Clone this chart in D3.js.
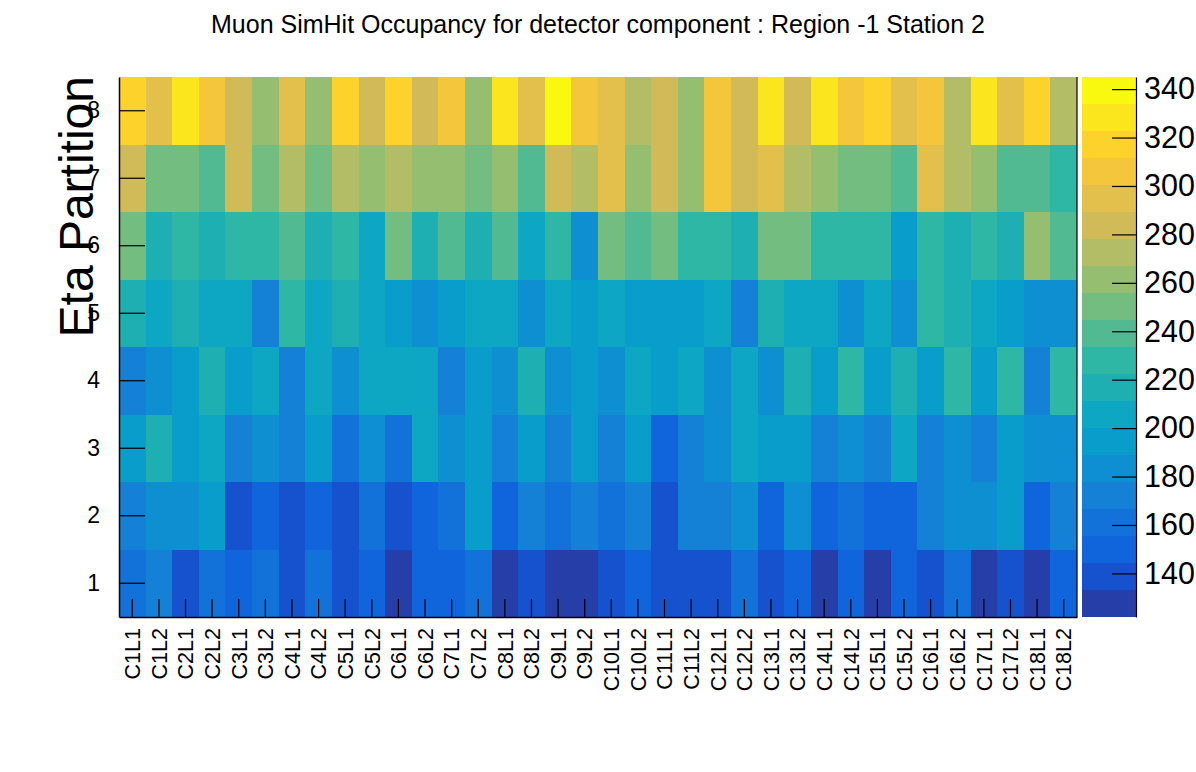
<!DOCTYPE html>
<html><head><meta charset="utf-8">
<script src="https://cdn.jsdelivr.net/npm/d3@7"></script>
<style>
body{margin:0;background:#fff}
svg{display:block}
text{font-family:"Liberation Sans",Arial,Helvetica,sans-serif;fill:#000}
</style>
</head><body>
<svg id="chart" width="1196" height="772"></svg>
<script>
const titleText = "Muon SimHit Occupancy for detector component : Region -1 Station 2";
const yTitle = "Eta Partition";
const chambers = ["C1L1","C1L2","C2L1","C2L2","C3L1","C3L2","C4L1","C4L2","C5L1","C5L2",
  "C6L1","C6L2","C7L1","C7L2","C8L1","C8L2","C9L1","C9L2","C10L1","C10L2",
  "C11L1","C11L2","C12L1","C12L2","C13L1","C13L2","C14L1","C14L2","C15L1","C15L2",
  "C16L1","C16L2","C17L1","C17L2","C18L1","C18L2"];
const etaPartitions = [1,2,3,4,5,6,7,8];
const zTicks = [140,160,180,200,220,240,260,280,300,320,340];

// occupancy per eta partition, one value per chamber/layer
const eta1 = [161,172,139,161,150,161,139,161,139,150,122,150,150,161,128,139,128,128,
              139,150,139,139,139,161,139,150,128,150,128,150,139,161,128,139,128,150];
const eta2 = [172,183,183,194,139,150,139,150,139,161,139,150,161,194,150,172,161,172,
              161,172,139,172,172,183,150,183,150,161,150,150,172,183,183,194,150,172];
const eta3 = [194,217,194,206,172,183,172,194,161,183,161,206,183,194,172,194,172,194,
              172,194,150,172,183,206,194,194,172,183,172,206,172,183,172,194,183,183];
const eta4 = [172,183,194,217,194,206,172,206,183,206,206,206,172,194,183,217,183,194,
              183,206,194,206,183,206,183,217,194,228,194,217,194,228,194,228,172,228];
const eta5 = [217,206,217,206,206,172,228,206,217,206,194,183,194,206,206,183,206,194,
              206,194,194,194,206,172,217,206,206,183,206,183,228,217,206,194,183,183];
const eta6 = [250,217,228,217,228,228,239,217,228,206,250,217,239,217,239,206,228,183,
              250,239,250,228,228,217,250,250,228,228,228,194,228,217,228,217,261,239];
const eta7 = [284,250,250,239,284,250,272,250,272,261,272,261,261,250,261,239,284,272,
              295,261,284,261,306,284,295,272,261,250,250,239,295,272,261,239,239,228];
const eta8 = [317,295,328,306,284,261,295,261,317,284,317,284,306,261,328,295,345,306,
              295,272,284,261,306,284,328,284,328,306,317,295,306,272,328,295,317,272];
const etaRows = [eta1,eta2,eta3,eta4,eta5,eta6,eta7,eta8];

// ROOT kBird palette definition
const birdStops = [0.0000,0.1250,0.2500,0.3750,0.5000,0.6250,0.7500,0.8750,1.0000];
const birdRed   = [0.2082,0.0592,0.0780,0.0232,0.1802,0.5301,0.8186,0.9956,0.9764];
const birdGreen = [0.1664,0.3599,0.5041,0.6419,0.7178,0.7492,0.7328,0.7862,0.9832];
const birdBlue  = [0.5293,0.8684,0.8385,0.7914,0.6425,0.4662,0.3499,0.1968,0.0539];
const nPalette = 255, nContours = 20;

function buildPalette(){
  const pal = [];
  for (let g = 1; g < birdStops.length; g++){
    const nc = Math.floor(nPalette*birdStops[g]) - Math.floor(nPalette*birdStops[g-1]);
    for (let c = 0; c < nc; c++){
      const r = birdRed[g-1] + c*(birdRed[g]-birdRed[g-1])/nc;
      const gg = birdGreen[g-1] + c*(birdGreen[g]-birdGreen[g-1])/nc;
      const b = birdBlue[g-1] + c*(birdBlue[g]-birdBlue[g-1])/nc;
      pal.push(d3.rgb(Math.round(r*255), Math.round(gg*255), Math.round(b*255)).formatHex());
    }
  }
  return pal;
}
const palette = buildPalette();
const bandColor = k => palette[Math.floor((k+0.99)*nPalette/nContours)];

const cells = [];
etaRows.forEach((row,i) => row.forEach((v,j) => cells.push({eta: etaPartitions[i], ch: chambers[j], v})));
const zmin = d3.min(cells, d => d.v), zmax = d3.max(cells, d => d.v);
const dz = (zmax - zmin)/nContours;
function colorOf(v){
  let k = Math.floor(0.01 + (v - zmin)/dz);
  k = Math.max(0, Math.min(nContours-1, k));
  return bandColor(k);
}

const L = 119, R = 1077, T = 77, B = 617;
const svg = d3.select("#chart");
const x = d3.scaleBand().domain(chambers).range([L, R]);
const y = d3.scaleBand().domain(etaPartitions).range([B, T]);

svg.append("g").selectAll("rect").data(cells).join("rect")
  .attr("x", d => x(d.ch)).attr("y", d => y(d.eta))
  .attr("width", x.bandwidth()+0.4).attr("height", y.bandwidth()+0.4)
  .attr("fill", d => colorOf(d.v)).attr("shape-rendering","crispEdges");

// frame right edge
svg.append("line").attr("x1", R).attr("x2", R).attr("y1", T).attr("y2", B)
  .attr("stroke","#000").attr("stroke-width",1.2);

// axes
const yAxis = d3.axisLeft(y).tickSizeInner(-26).tickSizeOuter(0).tickPadding(19);
const gy = svg.append("g").attr("transform",`translate(${L},0)`).call(yAxis);
gy.selectAll("text").attr("font-size","23px").attr("font-family",null);

const xAxis = d3.axisBottom(x).tickSizeInner(-18).tickSizeOuter(0);
const gx = svg.append("g").attr("transform",`translate(0,${B})`).call(xAxis);
gx.selectAll("text").attr("font-size","21.5px").attr("font-family",null)
  .attr("transform","rotate(-90)").attr("text-anchor","end")
  .attr("x",-11).attr("y",0).attr("dy","0.36em");

[gx, gy].forEach(g => {
  g.selectAll(".tick line").attr("stroke","#000").attr("stroke-width",1.2);
  g.select(".domain").attr("stroke","#000").attr("stroke-width",1.5);
});

// color bar
const CB0 = 1082, CB1 = 1136;
const z = d3.scaleLinear().domain([zmin, zmax]).range([B, T]);
svg.append("g").selectAll("rect").data(d3.range(nContours)).join("rect")
  .attr("x", CB0).attr("width", CB1-CB0)
  .attr("y", k => z(zmin+(k+1)*dz)).attr("height", k => z(zmin+k*dz) - z(zmin+(k+1)*dz) + 0.4)
  .attr("fill", k => bandColor(k)).attr("shape-rendering","crispEdges");
const zAxis = d3.axisRight(z).tickValues(zTicks).tickSizeInner(-24).tickSizeOuter(0).tickPadding(8);
const gz = svg.append("g").attr("transform",`translate(${CB1},0)`).call(zAxis);
gz.selectAll("text").attr("font-size","30.5px").attr("font-family",null);
gz.selectAll(".tick line").attr("stroke","#000").attr("stroke-width",1.2);
gz.select(".domain").attr("stroke","#000").attr("stroke-width",1.2);

// titles
svg.append("text").attr("x", 598).attr("y", 33).attr("text-anchor","middle")
  .attr("font-size","25px").text(titleText);
svg.append("text").attr("transform",`translate(93,${T-1}) rotate(-90)`).attr("text-anchor","end")
  .attr("font-size","48px").text(yTitle);
</script>
</body></html>
